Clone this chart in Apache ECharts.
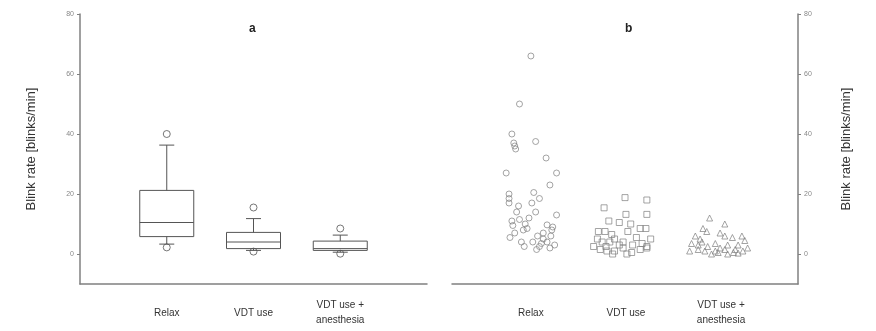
<!DOCTYPE html>
<html>
<head>
<meta charset="utf-8">
<script src="https://cdn.jsdelivr.net/npm/echarts@6/dist/echarts.min.js"></script>
<style>
html,body{margin:0;padding:0;background:#fff;}
#chart{width:876px;height:331px;}
</style>
</head>
<body>
<div id="chart"></div>
<script>
// ---- data ----
var categories = ['Relax', 'VDT use', 'VDT use +\nanesthesia'];
var yTicks = [0, 20, 40, 60, 80];
var panelTitles = ['a', 'b'];
var yName = 'Blink rate [blinks/min]';

// box stats: [position, whiskerLow, Q1, median, Q3, whiskerHigh]
var boxStats = [
  [1, 3.3, 5.8, 10.5, 21.2, 36.3],
  [2, 1.2, 1.8, 4.0, 7.2, 11.8],
  [3, 0.6, 1.2, 1.8, 4.3, 6.3]
];
var boxOutliers = [[1, 40], [1, 2.2], [2, 15.5], [2, 0.8], [3, 8.5], [3, 0.1]];

// individual points: [jitter offset from category centre, value]
var relaxPoints = [
  [0.00, 66], [-0.12, 50], [-0.20, 40], [-0.18, 37], [-0.17, 36], [-0.16, 35],
  [0.05, 37.5], [0.16, 32], [-0.26, 27], [0.27, 27], [0.20, 23],
  [-0.23, 20], [-0.23, 18.5], [-0.23, 17], [0.03, 20.5], [0.01, 17], [0.09, 18.5],
  [-0.13, 16], [-0.15, 14], [0.27, 13], [-0.20, 11], [-0.12, 11.5], [-0.06, 10],
  [-0.04, 8.5], [-0.08, 8], [0.05, 14], [0.17, 9.7], [0.23, 9], [0.22, 8],
  [-0.22, 5.5], [-0.10, 4], [0.02, 4], [0.07, 6], [0.09, 2.5], [0.13, 5],
  [0.17, 4], [0.20, 2], [0.06, 1.5], [0.25, 3], [-0.17, 7], [-0.02, 12],
  [0.13, 7], [0.21, 6], [-0.07, 2.5], [0.11, 3.5], [-0.19, 9.5]
];
var vdtPoints = [
  [-0.01, 18.8], [0.22, 18], [-0.23, 15.4], [0.00, 13.2], [0.22, 13.2],
  [-0.18, 11], [-0.07, 10.5], [0.05, 10], [0.15, 8.5], [0.21, 8.5],
  [-0.29, 7.5], [-0.22, 7.5], [-0.15, 6.5], [-0.30, 5], [-0.25, 4],
  [-0.17, 4], [-0.12, 5], [-0.03, 4], [0.07, 3], [0.17, 3.5], [0.22, 2.5],
  [-0.27, 1.5], [-0.20, 1], [-0.12, 1], [-0.03, 2], [0.06, 0.5], [0.15, 1.5],
  [0.22, 2], [-0.14, 0], [0.01, 0], [-0.07, 3], [0.11, 5.5], [-0.34, 2.5],
  [0.26, 5], [0.02, 7.5], [-0.21, 2.5]
];
var anesPoints = [
  [-0.12, 12], [0.04, 10], [-0.19, 8.5], [-0.15, 7.5], [-0.01, 7], [0.04, 6],
  [0.12, 5.5], [-0.27, 6], [-0.22, 5], [0.22, 6], [0.25, 4.5], [-0.31, 3.5],
  [-0.24, 3], [-0.14, 2.5], [-0.06, 3.5], [0.07, 3], [0.18, 3], [-0.24, 1.5],
  [-0.17, 1], [-0.06, 1], [0.04, 1.5], [0.15, 1.5], [0.23, 1], [-0.10, 0],
  [-0.03, 0.5], [0.07, 0], [0.18, 0.3], [0.28, 2], [-0.33, 1], [-0.20, 4],
  [0.13, 0.5], [-0.01, 2]
];

function place(points, centre) {
  return points.map(function (p) { return [centre + p[0], p[1]]; });
}

var axisColor = '#808080';
var fontFam = '"Liberation Sans", Arial, sans-serif';

function xAxisCfg(gridIndex, min, max) {
  return {
    type: 'value', gridIndex: gridIndex, min: min, max: max,
    splitLine: { show: false },
    axisLine: { show: true, onZero: false, lineStyle: { color: axisColor, width: 1.5 } },
    axisTick: { show: false },
    axisLabel: {
      customValues: [1, 2, 3],
      formatter: function (v) { return categories[Math.round(v) - 1] || ''; },
      fontSize: 10, color: '#333', fontFamily: fontFam,
      verticalAlign: 'middle', lineHeight: 15, margin: 29
    }
  };
}
function yAxisCfg(gridIndex, pos) {
  return {
    type: 'value', gridIndex: gridIndex, min: -10, max: 80, position: pos,
    splitLine: { show: false },
    axisLine: { show: true, onZero: false, lineStyle: { color: axisColor, width: 1.5 } },
    axisTick: { show: true, customValues: yTicks, length: 3, lineStyle: { color: axisColor } },
    axisLabel: { customValues: yTicks, fontSize: 7, color: '#888', fontFamily: fontFam, margin: 6 },
    name: yName, nameLocation: 'middle', nameGap: 42, nameRotate: 90,
    nameTextStyle: { fontSize: 13, color: '#333', fontFamily: fontFam }
  };
}

var ptStyle = { color: 'rgba(255,255,255,0)', borderColor: '#808080', borderWidth: 0.9 };

var chart = echarts.init(document.getElementById('chart'));
chart.setOption({
  animation: false,
  backgroundColor: '#fff',
  title: [
    { text: panelTitles[0], left: 244, top: 18, textStyle: { fontSize: 12, fontWeight: 'bold', color: '#222', fontFamily: fontFam } },
    { text: panelTitles[1], left: 620, top: 18, textStyle: { fontSize: 12, fontWeight: 'bold', color: '#222', fontFamily: fontFam } }
  ],
  grid: [
    { left: 80, right: 449, top: 14, bottom: 47 },
    { left: 452, right: 78, top: 14, bottom: 47 }
  ],
  xAxis: [xAxisCfg(0, 0, 4), xAxisCfg(1, 0.17, 3.81)],
  yAxis: [yAxisCfg(0, 'left'), yAxisCfg(1, 'right')],
  series: [
    {
      type: 'custom', xAxisIndex: 0, yAxisIndex: 0,
      data: boxStats,
      renderItem: function (params, api) {
        var x = api.value(0);
        var lo = api.coord([x, api.value(1)]);
        var q1 = api.coord([x, api.value(2)]);
        var md = api.coord([x, api.value(3)]);
        var q3 = api.coord([x, api.value(4)]);
        var hi = api.coord([x, api.value(5)]);
        var cx = lo[0], hw = 27, cw = 7.5;
        var st = { stroke: '#555', lineWidth: 1, fill: null };
        return {
          type: 'group',
          children: [
            { type: 'rect', shape: { x: cx - hw, y: q3[1], width: hw * 2, height: q1[1] - q3[1] }, style: { stroke: '#555', lineWidth: 1, fill: '#fff' } },
            { type: 'line', shape: { x1: cx - hw, y1: md[1], x2: cx + hw, y2: md[1] }, style: st },
            { type: 'line', shape: { x1: cx, y1: q3[1], x2: cx, y2: hi[1] }, style: st },
            { type: 'line', shape: { x1: cx, y1: q1[1], x2: cx, y2: lo[1] }, style: st },
            { type: 'line', shape: { x1: cx - cw, y1: hi[1], x2: cx + cw, y2: hi[1] }, style: st },
            { type: 'line', shape: { x1: cx - cw, y1: lo[1], x2: cx + cw, y2: lo[1] }, style: st }
          ]
        };
      }
    },
    {
      type: 'scatter', xAxisIndex: 0, yAxisIndex: 0,
      symbol: 'circle', symbolSize: 7,
      itemStyle: { color: 'rgba(255,255,255,0)', borderColor: '#555', borderWidth: 1 },
      data: boxOutliers
    },
    {
      type: 'scatter', xAxisIndex: 1, yAxisIndex: 1,
      symbol: 'circle', symbolSize: 6,
      itemStyle: ptStyle,
      data: place(relaxPoints, 1)
    },
    {
      type: 'scatter', xAxisIndex: 1, yAxisIndex: 1,
      symbol: 'rect', symbolSize: 6,
      itemStyle: ptStyle,
      data: place(vdtPoints, 2)
    },
    {
      type: 'scatter', xAxisIndex: 1, yAxisIndex: 1,
      symbol: 'triangle', symbolSize: 6,
      itemStyle: ptStyle,
      data: place(anesPoints, 3)
    }
  ]
});
</script>
</body>
</html>
